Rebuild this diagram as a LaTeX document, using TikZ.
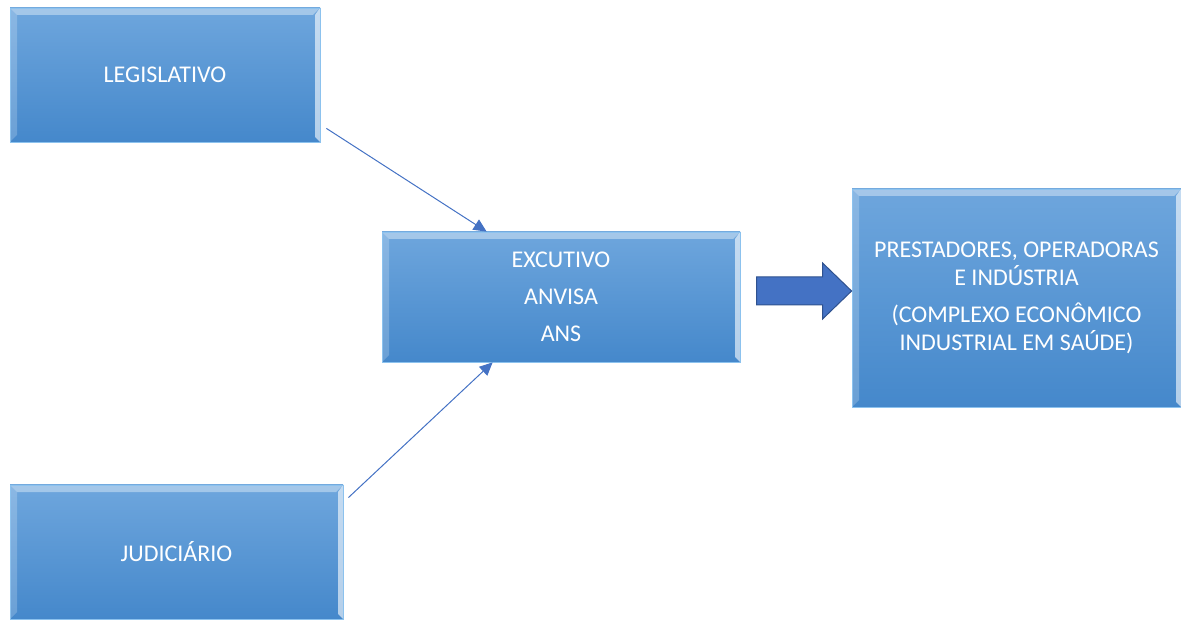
\documentclass[tikz,border=0pt]{standalone}
\usepackage{fontspec}
\setmainfont{Carlito}
\usetikzlibrary{calc,arrows.meta}
\definecolor{boxtop}{HTML}{6EA6DD}
\definecolor{boxbot}{HTML}{4588CB}
\definecolor{boxline}{HTML}{8CC2EE}
\definecolor{arrowblue}{HTML}{4472C4}
\definecolor{arrowedge}{HTML}{2F528F}
\tikzset{
  bbox/.style={rectangle, inner sep=0pt, top color=boxtop, bottom color=boxbot,
    draw=boxline, line width=0.8pt, text=white, align=center,
    font=\fontsize{24}{28}\selectfont,
    path picture={
      \coordinate (nw) at (path picture bounding box.north west);
      \coordinate (ne) at (path picture bounding box.north east);
      \coordinate (sw) at (path picture bounding box.south west);
      \coordinate (se) at (path picture bounding box.south east);
      \fill[white,opacity=0.38] (nw) -- (ne) -- ($(ne)+(-7,-7)$) -- ($(nw)+(7,-7)$) -- cycle;
      \fill[white,opacity=0.2] (nw) -- ($(nw)+(7,-7)$) -- ($(sw)+(7,7)$) -- (sw) -- cycle;
      \fill[white,opacity=0.6] (ne) -- (se) -- ($(se)+(-5,5)$) -- ($(ne)+(-5,-7)$) -- cycle;
    }},
  thin arrow/.style={draw=arrowblue, line width=1pt, -{Triangle[length=13pt,width=12pt]}},
}
\begin{document}
\begin{tikzpicture}[x=1pt,y=1pt]
\useasboundingbox (0,0) rectangle (1181,619);
\node[bbox, minimum width=310pt, minimum height=134pt] (leg) at (165,544) {LEGISLATIVO};
\node[bbox, minimum width=358pt, minimum height=130pt] (exe) at (561,322)
  {EXCUTIVO\\[9pt]ANVISA\\[9pt]ANS};
\node[bbox, minimum width=329pt, minimum height=218pt] (pre) at (1016.5,321)
  {PRESTADORES, OPERADORAS\\E INDÚSTRIA\\[9pt](COMPLEXO ECONÔMICO\\INDUSTRIAL EM SAÚDE)};
\node[bbox, minimum width=333pt, minimum height=134pt] (jud) at (176.5,67) {JUDICIÁRIO};
\draw[thin arrow] ($(leg.south east)+(6,14)$) -- ($(exe.north west)+(105,0)$);
\draw[thin arrow] ($(jud.north east)+(5,-13)$) -- ($(exe.south west)+(111,0)$);
\coordinate (tip) at ($(pre.west)+(0,7)$);
\filldraw[fill=arrowblue, draw=arrowedge, line width=1pt]
  ($(tip)+(-95,14)$) -- ($(tip)+(-29,14)$) -- ($(tip)+(-29,28)$) -- (tip)
  -- ($(tip)+(-29,-28)$) -- ($(tip)+(-29,-14)$) -- ($(tip)+(-95,-14)$) -- cycle;
\end{tikzpicture}
\end{document}
